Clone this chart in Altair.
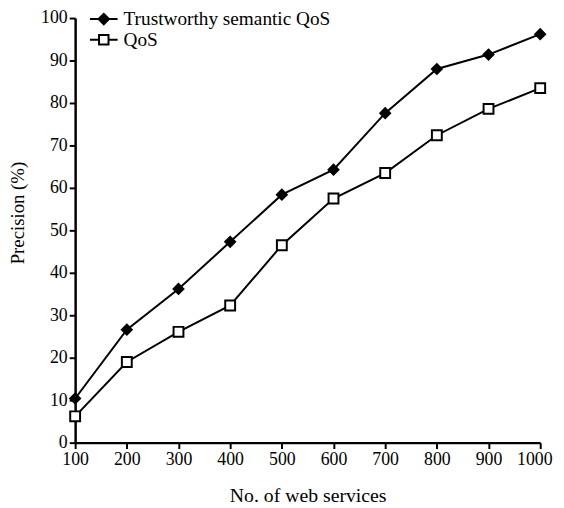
import altair as alt
import pandas as pd

services = [100, 200, 300, 400, 500, 600, 700, 800, 900, 1000]
trust = [10.4, 26.6, 36.2, 47.3, 58.4, 64.3, 77.6, 88.0, 91.4, 96.2]
qos = [6.2, 19.0, 26.1, 32.3, 46.5, 57.5, 63.5, 72.4, 78.6, 83.5]
series_names = ["Trustworthy semantic QoS", "QoS"]

rows = []
for s, t, q in zip(services, trust, qos):
    rows.append({"services": s, "precision": t, "series": series_names[0], "key": series_names[0]})
    rows.append({"services": s, "precision": q, "series": series_names[1], "key": series_names[1]})
df = pd.DataFrame(rows)

FONT = "Liberation Serif"

x_enc = alt.X("services:Q",
              scale=alt.Scale(domain=[100, 1000], nice=False),
              axis=alt.Axis(values=services, title="No. of web services", format="d",
                            labelFlush=False, labelFont=FONT, titleFont=FONT,
                            titlePadding=18, titleFontSize=20,
                            labelOffset={"condition": {"test": "datum.value === 1000", "value": -6}, "value": 0}))
y_enc = alt.Y("precision:Q",
              scale=alt.Scale(domain=[0, 100], nice=False),
              axis=alt.Axis(values=list(range(0, 101, 10)), title="Precision (%)",
                            labelFont=FONT, titleFont=FONT, titlePadding=13,
                            titleFontSize=19, titleY=197))

lines = alt.Chart(df).mark_line(color="black", strokeWidth=2).encode(
    x=x_enc, y=y_enc, detail="series:N"
)

points = alt.Chart(df).mark_point(filled=False, stroke="black", strokeWidth=2, size=100, opacity=1).encode(
    x=x_enc, y=y_enc,
    shape=alt.Shape("series:N", scale=alt.Scale(domain=series_names, range=["diamond", "square"]), legend=None),
    fill=alt.Fill("series:N", scale=alt.Scale(domain=series_names, range=["black", "white"]), legend=None),
)

diamond_path = "M-1.4,0L-0.53,0M0.53,0L1.4,0M-0.53,0L0,-0.53L0.53,0L0,0.53Z"
square_path = "M-1.4,0L-0.48,0M0.48,0L1.4,0M-0.48,-0.48L0.48,-0.48L0.48,0.48L-0.48,0.48Z"

legend_layer = alt.Chart(df).transform_filter("false").mark_point(
    filled=True, strokeWidth=2, opacity=1
).encode(
    x=x_enc, y=y_enc,
    shape=alt.Shape("key:N",
                    scale=alt.Scale(domain=series_names, range=[diamond_path, square_path]),
                    legend=alt.Legend(title=None, orient="none", legendX=18, legendY=-10,
                                      symbolSize=400, symbolStrokeWidth=2,
                                      symbolOpacity=1,
                                      labelFont=FONT, labelFontSize=19.5, labelColor="black",
                                      labelOffset=9, rowPadding=-2, labelLimit=0)),
    fill=alt.Fill("key:N",
                  scale=alt.Scale(domain=series_names, range=["black", "white"]),
                  legend=None),
    stroke=alt.Stroke("key:N",
                      scale=alt.Scale(domain=series_names, range=["black", "black"]),
                      legend=None),
)

chart = alt.layer(lines, points, legend_layer).resolve_scale(
    shape="independent", fill="independent", stroke="independent"
).properties(
    width=471, height=430,
    autosize=alt.AutoSizeParams(type="none"),
    padding={"left": 68, "top": 7, "right": 16, "bottom": 62},
).configure(font=FONT).configure_view(stroke=None).configure_axis(
    grid=False,
    domainColor="black", domainWidth=2.5,
    tickColor="black", tickWidth=2, tickSize=6,
    labelFont=FONT, labelFontSize=18, labelColor="black", labelPadding=2,
    titleFont=FONT, titleColor="black", titleFontWeight="normal",
)

chart.save("out.html", embed_options={"renderer": "svg", "actions": False})
